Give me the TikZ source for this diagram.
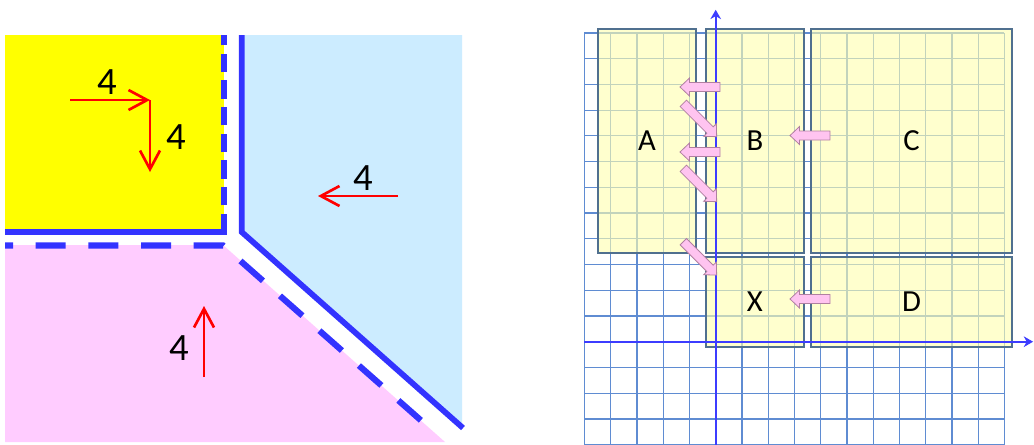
\documentclass[tikz,border=0pt]{standalone}
\usepackage{fontspec}
\setmainfont{Carlito}
\usetikzlibrary{arrows.meta,fit}
\definecolor{cyel}{HTML}{FFFF00}
\definecolor{cblue}{HTML}{CCECFF}
\definecolor{cpink}{HTML}{FFCCFF}
\definecolor{bline}{HTML}{3333FF}
\definecolor{gridc}{HTML}{5F8CD2}
\definecolor{boxfill}{HTML}{FFFFB0}
\definecolor{boxedge}{HTML}{50708F}
\definecolor{axisc}{HTML}{3C3CFF}
\definecolor{parrfill}{HTML}{FFC4F0}
\definecolor{parredge}{HTML}{B080A0}
\tikzset{
  solidb/.style={draw=bline, line width=4.3pt},
  dashh/.style={draw=bline, line width=4.6pt, dash pattern=on 22.5pt off 17pt, dash phase=16.5pt},
  dashv/.style={draw=bline, line width=4.6pt, dash pattern=on 13.8pt off 6.2pt},
  redarr/.style={draw=red, line width=2pt, -{Straight Barb[length=14pt,width=15pt,line width=2pt]}},
  four/.style={font=\fontsize{29}{29}\selectfont, inner sep=0pt},
  gridline/.style={draw=gridc, line width=0.9pt},
  box/.style={draw=boxedge, line width=1.2pt, fill=boxfill, fill opacity=0.62, inner sep=0pt, rectangle},
  letter/.style={font=\fontsize{23}{23}\selectfont, inner sep=0pt, text opacity=1},
  axisline/.style={draw=axisc, line width=1.5pt, -{Stealth[length=7pt,width=8pt]}},
  pinkarr/.style={draw=parredge, line width=0.6pt, fill=parrfill, line join=miter},
}
\newcommand\blkarrow[3]{%
  \draw[pinkarr, shift={(#1)}, rotate=#2] (0,-4.5) -- (#3-9.5,-4.5) -- (#3-9.5,-9) -- (#3,0) -- (#3-9.5,9) -- (#3-9.5,4.5) -- (0,4.5) -- cycle;}
\begin{document}
\begin{tikzpicture}[x=0.75pt,y=-0.75pt]
\useasboundingbox (0,0) rectangle (1034,444);
\fill[white] (0,0) rectangle (1034,444);
% ---------- left panel ----------
\fill[cyel] (5,35) rectangle (224,232);
\fill[cblue] (241.7,35) -- (462,35) -- (462,427) -- (241.7,232) -- cycle;
\fill[cpink] (5,245) -- (223,245) -- (445,442) -- (5,442) -- cycle;
\draw[solidb] (5,232) -- (227,232);
\draw[dashv] (224,232) -- (224,35);
\draw[solidb, line join=miter] (241.7,35) -- (241.7,232) -- (463,428);
\draw[dashh] (5,245.5) -- (223,245.5) -- (433,431);
% red arrows
\coordinate (r1s) at (70,100);
\coordinate (r1e) at (150,100);
\coordinate (r2e) at (150,172);
\coordinate (r3s) at (398,196);
\coordinate (r3e) at (318,196);
\coordinate (r4s) at (204,377);
\coordinate (r4e) at (204,306);
\draw[redarr] (r1s) -- (r1e);
\draw[redarr] (r1e) -- (r2e);
\draw[redarr] (r3s) -- (r3e);
\draw[redarr] (r4s) -- (r4e);
\node[four] (n1) at (107,82) {4};
\node[four] (n2) at (176,137) {4};
\node[four] (n3) at (363,178) {4};
\node[four] (n4) at (179,348) {4};
% ---------- right panel ----------
\begin{scope}[shift={(536.775pt,-256.275pt)}, x=19.6875pt, y=19.2975pt]
  \draw[gridline, step={(1,1)}] (-5,-4.3) grid (11,12);
  \node[box, fit={(-4.48,3.45) (-0.75,12.15)}, label={[letter]center:A}] (A) {};
  \node[box, fit={(-0.37,3.45) (3.36,12.15)}, label={[letter]center:B}] (B) {};
  \node[box, fit={(3.63,3.45) (11.29,12.15)}, label={[letter]center:C}] (C) {};
  \node[box, fit={(-0.37,-0.2) (3.36,3.29)}, label={[letter]center:X}] (X) {};
  \node[box, fit={(3.63,-0.2) (11.29,3.29)}, label={[letter]center:D}] (D) {};
  \coordinate (xa0) at (-5,0);
  \coordinate (xa1) at (12.09,0);
  \coordinate (ya0) at (0,-4.3);
  \coordinate (ya1) at (0,12.9);
  \draw[axisline] (xa0) -- (xa1);
  \draw[axisline] (ya0) -- (ya1);
\end{scope}
% pink block arrows
\blkarrow{720,87}{180}{40}
\blkarrow{720,152}{180}{40}
\blkarrow{683.3,103.3}{-45}{47.2}
\blkarrow{683.3,168.3}{-45}{47.2}
\blkarrow{683.3,241.7}{-45}{47.2}
\blkarrow{830,135.5}{180}{40}
\blkarrow{830,299}{180}{40}
\end{tikzpicture}
\end{document}
